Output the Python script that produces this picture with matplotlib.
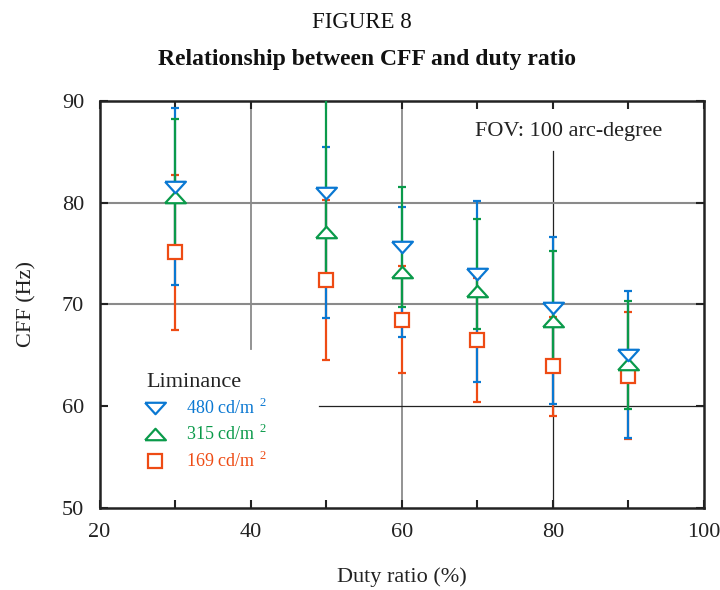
import numpy as np
import matplotlib
matplotlib.use("Agg")
import matplotlib.pyplot as plt
from matplotlib.lines import Line2D

plt.rcParams["font.family"] = ["Liberation Serif", "DejaVu Serif"]
plt.rcParams["mathtext.fontset"] = "custom"
plt.rcParams["mathtext.rm"] = "Liberation Serif"

# data
duty = [30, 50, 60, 70, 80, 90]
cff_480 = [81.5, 81.0, 75.6, 73.0, 69.6, 65.0]
sd_480 = [6.7, 9.2, 5.9, 5.4, 5.6, 5.3]
cff_315 = [80.6, 77.1, 73.2, 71.3, 68.4, 64.1]
sd_315 = [8.7, 8.4, 6.4, 8.9, 8.2, 7.2]
cff_169 = [75.1, 72.4, 68.5, 66.5, 63.9, 63.0]
sd_169 = [7.6, 7.9, 5.3, 6.1, 4.9, 6.2]
labels = ["480 cd/m$^{\\;\\,2}$", "315 cd/m$^{\\;\\,2}$", "169 cd/m$^{\\;\\,2}$"]

BLUE = "#0a78d2"
GREEN = "#0a9a4a"
ORANGE = "#ee4b14"

fig = plt.figure(figsize=(7.2, 5.9), dpi=100)
ax = fig.add_axes([99.5 / 720, 1 - 507.7 / 590, 604.5 / 720, 406.7 / 590])

# partial grid lines as in the original
ax.axvline(40, ymin=0.39, ymax=1, color="#8a8a8a", lw=1.3, zorder=1)
ax.axvline(60, color="#8a8a8a", lw=1.3, zorder=1)
ax.axvline(80, ymin=0, ymax=0.878, color="#222222", lw=0.9, zorder=1)
ax.axhline(80, color="#8a8a8a", lw=1.5, zorder=1)
ax.axhline(70, color="#8a8a8a", lw=1.5, zorder=1)
ax.axhline(60, xmin=0.3625, xmax=1, color="#222222", lw=0.9, zorder=1)

ebkw = dict(fmt="none", elinewidth=1.6, capsize=3, capthick=1.6)
# in the original the bar colours of the 480 and 315 series are swapped
ax.errorbar(duty, cff_169, yerr=sd_169, ecolor=ORANGE, zorder=2, **ebkw)
ax.errorbar(duty, cff_315, yerr=sd_315, ecolor=BLUE, zorder=3, **ebkw)
ax.errorbar(duty, cff_480, yerr=sd_480, ecolor=GREEN, zorder=4, **ebkw)

tri_down = [(-1, 0.55), (1, 0.55), (0, -0.55), (-1, 0.55)]
tri_up = [(-1, -0.55), (1, -0.55), (0, 0.55), (-1, -0.55)]
mkw = dict(linestyle="none", markerfacecolor="white", markeredgewidth=1.6)
ax.plot(duty, cff_169, marker="s", markersize=10.5, color=ORANGE, zorder=5, **mkw)
ax.plot(duty, cff_315, marker=tri_up, markersize=15, color=GREEN, zorder=6, **mkw)
ax.plot(duty, cff_480, marker=tri_down, markersize=15, color=BLUE, zorder=7, **mkw)

ax.set_xlim(20, 100)
ax.set_ylim(50, 90)
ax.set_xticks([20, 40, 60, 80, 100])
ax.set_xticks([30, 50, 70, 90], minor=True)
ax.set_yticks([50, 60, 70, 80, 90])
ax.tick_params(which="both", direction="in", top=True, right=True,
               length=6, width=1.5, color="#222222", labelsize=16, pad=11,
               labelcolor="#222222")
for s in ax.spines.values():
    s.set_linewidth(1.8)
    s.set_color("#222222")

ax.set_xlabel("Duty ratio (%)", fontsize=16, labelpad=18, color="#222222")
ax.set_ylabel("CFF (Hz)", fontsize=16, labelpad=18, color="#222222")

ax.text(0.622, 0.925, "FOV: 100 arc-degree", transform=ax.transAxes,
        fontsize=16, color="#222222", va="center", ha="left")

handles = [
    Line2D([], [], marker=tri_down, markersize=15, color=BLUE, **mkw),
    Line2D([], [], marker=tri_up, markersize=15, color=GREEN, **mkw),
    Line2D([], [], marker="s", markersize=10.5, color=ORANGE, **mkw),
]
leg = ax.legend(handles, labels, title="Liminance", loc="upper left",
                bbox_to_anchor=(0.05, 0.372), frameon=False, fontsize=13,
                title_fontsize=16, labelcolor=[BLUE, GREEN, ORANGE],
                handlelength=1.0, handletextpad=1.2, labelspacing=0.35,
                alignment="left")
leg.get_title().set_color("#222222")

fig.text(0.503, 1 - 22 / 590, "FIGURE 8", ha="center", va="center",
         fontsize=16.5, color="#111111")
fig.text(0.51, 1 - 60 / 590, "Relationship between CFF and duty ratio",
         ha="center", va="center", fontsize=17, fontweight="bold",
         color="#111111")

fig.savefig("out.png", dpi=100)
